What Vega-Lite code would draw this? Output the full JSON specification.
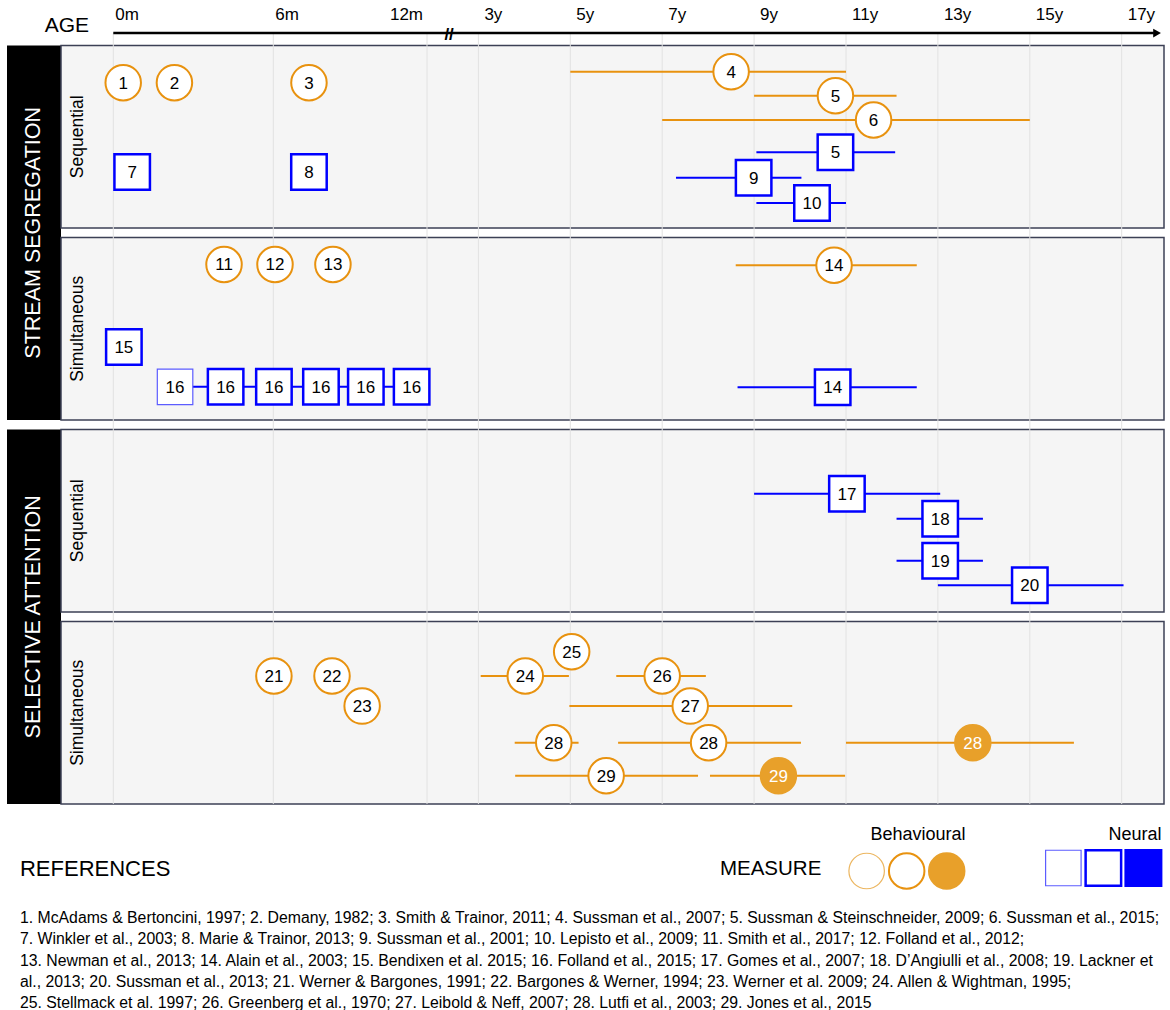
{
  "$schema": "https://vega.github.io/schema/vega-lite/v6.json",
  "background": "white",
  "padding": {"left": 7, "top": 0, "right": 0, "bottom": 0},
  "config": {"view": {"stroke": null}, "font": "Liberation Sans"},
  "datasets": {
    "studies": [
      {"id": "1", "type": "Behavioural", "variant": "B-normal", "age": 0.031, "row": 2.43},
      {"id": "2", "type": "Behavioural", "variant": "B-normal", "age": 0.191, "row": 2.43},
      {"id": "3", "type": "Behavioural", "variant": "B-normal", "age": 0.616, "row": 2.43},
      {"id": "4", "type": "Behavioural", "variant": "B-normal", "age": 8.5, "row": 1.86, "lo": 5.0, "hi": 11.0},
      {"id": "5", "type": "Behavioural", "variant": "B-normal", "age": 10.77, "row": 3.11, "lo": 9.0, "hi": 12.1},
      {"id": "6", "type": "Behavioural", "variant": "B-normal", "age": 11.6, "row": 4.375, "lo": 7.0, "hi": 15.0},
      {"id": "5", "type": "Neural", "variant": "N-normal", "age": 10.77, "row": 6.06, "lo": 9.05, "hi": 12.07},
      {"id": "7", "type": "Neural", "variant": "N-normal", "age": 0.059, "row": 7.08},
      {"id": "8", "type": "Neural", "variant": "N-normal", "age": 0.616, "row": 7.08},
      {"id": "9", "type": "Neural", "variant": "N-normal", "age": 8.99, "row": 7.38, "lo": 7.3, "hi": 10.03},
      {"id": "10", "type": "Neural", "variant": "N-normal", "age": 10.26, "row": 8.7, "lo": 9.05, "hi": 11.0},
      {"id": "11", "type": "Behavioural", "variant": "B-normal", "age": 0.346, "row": 11.9},
      {"id": "12", "type": "Behavioural", "variant": "B-normal", "age": 0.5055, "row": 11.9},
      {"id": "13", "type": "Behavioural", "variant": "B-normal", "age": 0.694, "row": 11.9},
      {"id": "14", "type": "Behavioural", "variant": "B-normal", "age": 10.74, "row": 11.94, "lo": 8.6, "hi": 12.54},
      {"id": "15", "type": "Neural", "variant": "N-normal", "age": 0.033, "row": 16.2},
      {"id": "16", "type": "Neural", "variant": "N-thin", "age": 0.193, "row": 18.27, "lo": 0.193, "hi": 0.95},
      {"id": "16", "type": "Neural", "variant": "N-normal", "age": 0.351, "row": 18.27},
      {"id": "16", "type": "Neural", "variant": "N-normal", "age": 0.502, "row": 18.27},
      {"id": "16", "type": "Neural", "variant": "N-normal", "age": 0.655, "row": 18.27},
      {"id": "16", "type": "Neural", "variant": "N-normal", "age": 0.801, "row": 18.27},
      {"id": "16", "type": "Neural", "variant": "N-normal", "age": 0.95, "row": 18.27},
      {"id": "14", "type": "Neural", "variant": "N-normal", "age": 10.71, "row": 18.3, "lo": 8.64, "hi": 12.54},
      {"id": "17", "type": "Neural", "variant": "N-normal", "age": 11.02, "row": 23.84, "lo": 9.0, "hi": 13.05},
      {"id": "18", "type": "Neural", "variant": "N-normal", "age": 13.05, "row": 25.14, "lo": 12.1, "hi": 13.98},
      {"id": "19", "type": "Neural", "variant": "N-normal", "age": 13.05, "row": 27.33, "lo": 12.1, "hi": 13.98},
      {"id": "20", "type": "Neural", "variant": "N-normal", "age": 15.0, "row": 28.61, "lo": 13.0, "hi": 17.04},
      {"id": "21", "type": "Behavioural", "variant": "B-normal", "age": 0.502, "row": 33.33},
      {"id": "22", "type": "Behavioural", "variant": "B-normal", "age": 0.691, "row": 33.33},
      {"id": "23", "type": "Behavioural", "variant": "B-normal", "age": 0.789, "row": 34.9},
      {"id": "24", "type": "Behavioural", "variant": "B-normal", "age": 4.02, "row": 33.33, "lo": 3.05, "hi": 4.97},
      {"id": "25", "type": "Behavioural", "variant": "B-normal", "age": 5.03, "row": 32.07},
      {"id": "26", "type": "Behavioural", "variant": "B-normal", "age": 7.0, "row": 33.33, "lo": 6.0, "hi": 7.95},
      {"id": "27", "type": "Behavioural", "variant": "B-normal", "age": 7.61, "row": 34.9, "lo": 4.98, "hi": 9.83},
      {"id": "28", "type": "Behavioural", "variant": "B-normal", "age": 4.64, "row": 36.81, "lo": 3.79, "hi": 5.18},
      {"id": "28", "type": "Behavioural", "variant": "B-normal", "age": 8.01, "row": 36.81, "lo": 6.04, "hi": 10.02},
      {"id": "28", "type": "Behavioural", "variant": "B-filled", "age": 13.76, "row": 36.81, "lo": 11.0, "hi": 15.96},
      {"id": "29", "type": "Behavioural", "variant": "B-normal", "age": 5.78, "row": 38.53, "lo": 3.8, "hi": 7.78},
      {"id": "29", "type": "Behavioural", "variant": "B-filled", "age": 9.53, "row": 38.53, "lo": 8.04, "hi": 10.98}
    ],
    "panels": [
      {"top": 0.5, "bottom": 10, "label": "Sequential", "mid": 5.25},
      {"top": 10.5, "bottom": 20, "label": "Simultaneous", "mid": 15.25},
      {"top": 20.5, "bottom": 30, "label": "Sequential", "mid": 25.25},
      {"top": 30.5, "bottom": 40, "label": "Simultaneous", "mid": 35.25}
    ],
    "ticks": [
      {"tick": 0, "label": "0m", "kind": "month"},
      {"tick": 0.5, "label": "6m", "kind": "month"},
      {"tick": 1, "label": "12m", "kind": "year1"},
      {"tick": 3, "label": "3y", "kind": "year"},
      {"tick": 5, "label": "5y", "kind": "year"},
      {"tick": 7, "label": "7y", "kind": "year"},
      {"tick": 9, "label": "9y", "kind": "year"},
      {"tick": 11, "label": "11y", "kind": "year"},
      {"tick": 13, "label": "13y", "kind": "year"},
      {"tick": 15, "label": "15y", "kind": "year"},
      {"tick": 17, "label": "17y", "kind": "year"}
    ],
    "legendMarks": [
      {"type": "Behavioural", "variant": "B-thin", "x": 74.3, "y": 3.0},
      {"type": "Behavioural", "variant": "B-normal", "x": 77.76, "y": 3.0},
      {"type": "Behavioural", "variant": "B-filled", "x": 81.22, "y": 3.0},
      {"type": "Neural", "variant": "N-thin", "x": 91.3, "y": 2.85},
      {"type": "Neural", "variant": "N-normal", "x": 94.76, "y": 2.85},
      {"type": "Neural", "variant": "N-filled", "x": 98.22, "y": 2.85}
    ],
    "typeLabels": [
      {"text": "Behavioural", "x": 78.74, "y": 1.2},
      {"text": "Neural", "x": 97.49, "y": 1.2}
    ],
    "refs": [
      {"text": "1. McAdams & Bertoncini, 1997; 2. Demany, 1982; 3. Smith & Trainor, 2011; 4. Sussman et al., 2007; 5. Sussman & Steinschneider, 2009; 6. Sussman et al., 2015;", "y": 5.35},
      {"text": "7. Winkler et al., 2003; 8. Marie & Trainor, 2013; 9. Sussman et al., 2001; 10. Lepisto et al., 2009; 11. Smith et al., 2017; 12. Folland et al., 2012;", "y": 6.4},
      {"text": "13. Newman et al., 2013; 14. Alain et al., 2003; 15. Bendixen et al. 2015; 16. Folland et al., 2015; 17. Gomes et al., 2007; 18. D’Angiulli et al., 2008; 19. Lackner et", "y": 7.475},
      {"text": "al., 2013; 20. Sussman et al., 2013; 21. Werner & Bargones, 1991; 22. Bargones & Werner, 1994; 23. Werner et al. 2009; 24. Allen & Wightman, 1995;", "y": 8.55},
      {"text": "25. Stellmack et al. 1997; 26. Greenberg et al., 1970; 27. Leibold & Neff, 2007; 28. Lutfi et al., 2003; 29. Jones et al., 2015", "y": 9.6}
    ]
  },
  "spacing": 6,
  "vconcat": [
    {
      "spacing": 0,
      "bounds": "flush",
      "hconcat": [
        {
          "width": 54,
          "height": 804,
          "data": {"values": [
            {"section": "STREAM SEGREGATION", "top": 0.5, "bottom": 20, "mid": 10.25},
            {"section": "SELECTIVE ATTENTION", "top": 20.5, "bottom": 40, "mid": 30.25}
          ]},
          "layer": [
            {
              "mark": {"type": "rect", "fill": "black"},
              "encoding": {
                "y": {"field": "top", "type": "quantitative", "scale": {"type": "linear", "domain": [-1.875, 40], "reverse": true, "nice": false, "zero": false}, "axis": null},
                "y2": {"field": "bottom"}
              }
            },
            {
              "mark": {"type": "text", "color": "white", "angle": 270, "fontSize": 21.5, "align": "center", "baseline": "middle"},
              "encoding": {
                "y": {"field": "mid", "type": "quantitative", "scale": {"type": "linear", "domain": [-1.875, 40], "reverse": true, "nice": false, "zero": false}, "axis": null},
                "text": {"field": "section"}
              }
            }
          ]
        },
        {
          "width": 1103,
          "height": 804,
          "layer": [
            {
              "data": {"name": "panels"},
              "mark": {"type": "rect", "fill": "#f5f5f5", "stroke": "#3c4055", "strokeWidth": 1.5},
              "encoding": {
                "y": {"field": "top", "type": "quantitative", "scale": {"type": "linear", "domain": [-1.875, 40], "reverse": true, "nice": false, "zero": false}, "axis": null},
                "y2": {"field": "bottom"}
              }
            },
            {
              "data": {"name": "ticks"},
              "mark": {"type": "rule", "color": "#e2e2e2", "strokeWidth": 1},
              "encoding": {
                "x": {"field": "tick", "type": "quantitative", "scale": {"type": "linear", "domain": [0, 0.5, 1, 3, 17], "range": [52.3, 212.3, 366, 417.4, 1060.7], "nice": false, "zero": false}, "axis": null},
                "y": {"datum": -0.15, "type": "quantitative", "axis": null},
                "y2": {"datum": 40}
              }
            },
            {
              "data": {"name": "ticks"},
              "transform": [{"filter": "datum.kind == 'month'"}],
              "mark": {"type": "text", "fontSize": 17, "align": "left", "baseline": "middle", "dx": 2, "color": "black"},
              "encoding": {
                "x": {"field": "tick", "type": "quantitative", "axis": null},
                "y": {"datum": -1.1, "type": "quantitative", "axis": null},
                "text": {"field": "label"}
              }
            },
            {
              "data": {"name": "ticks"},
              "transform": [{"filter": "datum.kind == 'year1'"}],
              "mark": {"type": "text", "fontSize": 17, "align": "right", "baseline": "middle", "dx": -4, "color": "black"},
              "encoding": {
                "x": {"field": "tick", "type": "quantitative", "axis": null},
                "y": {"datum": -1.1, "type": "quantitative", "axis": null},
                "text": {"field": "label"}
              }
            },
            {
              "data": {"name": "ticks"},
              "transform": [{"filter": "datum.kind == 'year'"}],
              "mark": {"type": "text", "fontSize": 17, "align": "left", "baseline": "middle", "dx": 6, "color": "black"},
              "encoding": {
                "x": {"field": "tick", "type": "quantitative", "axis": null},
                "y": {"datum": -1.1, "type": "quantitative", "axis": null},
                "text": {"field": "label"}
              }
            },
            {
              "data": {"values": [{"text": "AGE"}]},
              "mark": {"type": "text", "fontSize": 21, "align": "center", "baseline": "middle", "color": "black"},
              "encoding": {
                "x": {"datum": -0.145, "type": "quantitative", "axis": null},
                "y": {"datum": -0.52, "type": "quantitative", "axis": null},
                "text": {"field": "text"}
              }
            },
            {
              "data": {"values": [{"from": 0, "to": 17.7}]},
              "mark": {"type": "rule", "color": "black", "strokeWidth": 2.5},
              "encoding": {
                "x": {"field": "from", "type": "quantitative", "axis": null},
                "x2": {"field": "to"},
                "y": {"datum": -0.15, "type": "quantitative", "axis": null}
              }
            },
            {
              "data": {"values": [{"at": 17.77}]},
              "mark": {"type": "point", "shape": "triangle-right", "filled": true, "color": "black", "size": 80, "opacity": 1},
              "encoding": {
                "x": {"field": "at", "type": "quantitative", "axis": null},
                "y": {"datum": -0.15, "type": "quantitative", "axis": null}
              }
            },
            {
              "data": {"values": [{"at": 1.86, "text": "//"}]},
              "mark": {"type": "text", "fontSize": 17, "fontWeight": "bold", "color": "black", "align": "center", "baseline": "middle", "dy": 2},
              "encoding": {
                "x": {"field": "at", "type": "quantitative", "axis": null},
                "y": {"datum": -0.15, "type": "quantitative", "axis": null},
                "text": {"field": "text"}
              }
            },
            {
              "data": {"name": "studies"},
              "transform": [{"filter": "isValid(datum.lo)"}],
              "mark": {"type": "rule", "strokeWidth": 2},
              "encoding": {
                "x": {"field": "lo", "type": "quantitative", "axis": null},
                "x2": {"field": "hi"},
                "y": {"field": "row", "type": "quantitative", "axis": null},
                "color": {"field": "type", "type": "nominal", "scale": {"domain": ["Behavioural", "Neural"], "range": ["#e8920f", "#0000ff"]}, "legend": null}
              }
            },
            {
              "data": {"name": "studies"},
              "mark": {"type": "point", "size": 1260, "opacity": 1, "fillOpacity": 1, "strokeOpacity": 1},
              "encoding": {
                "x": {"field": "age", "type": "quantitative", "axis": null},
                "y": {"field": "row", "type": "quantitative", "axis": null},
                "shape": {"field": "type", "type": "nominal", "scale": {"domain": ["Behavioural", "Neural"], "range": ["circle", "square"]}, "legend": null},
                "fill": {"field": "variant", "type": "nominal", "scale": {"domain": ["B-thin", "B-normal", "B-filled", "N-thin", "N-normal", "N-filled"], "range": ["#ffffff", "#ffffff", "#e8a02a", "#ffffff", "#ffffff", "#0000ff"]}, "legend": null},
                "stroke": {"field": "variant", "type": "nominal", "scale": {"domain": ["B-thin", "B-normal", "B-filled", "N-thin", "N-normal", "N-filled"], "range": ["#ecb660", "#e8920f", "#e8a02a", "#5c5cff", "#0000ff", "#0000ff"]}, "legend": null},
                "strokeWidth": {"field": "variant", "type": "nominal", "scale": {"type": "ordinal", "domain": ["B-thin", "B-normal", "B-filled", "N-thin", "N-normal", "N-filled"], "range": [1.2, 2, 2, 1.2, 2.5, 2.5]}, "legend": null}
              }
            },
            {
              "data": {"name": "studies"},
              "mark": {"type": "text", "fontSize": 17, "align": "center", "baseline": "middle", "dy": 1},
              "encoding": {
                "x": {"field": "age", "type": "quantitative", "axis": null},
                "y": {"field": "row", "type": "quantitative", "axis": null},
                "text": {"field": "id"},
                "color": {"condition": {"test": "datum.variant == 'B-filled' || datum.variant == 'N-filled'", "value": "white"}, "value": "black"}
              }
            },
            {
              "data": {"name": "panels"},
              "mark": {"type": "text", "fontSize": 17.5, "angle": 270, "align": "center", "baseline": "middle", "color": "black"},
              "encoding": {
                "x": {"datum": -0.109, "type": "quantitative", "axis": null},
                "y": {"field": "mid", "type": "quantitative", "axis": null},
                "text": {"field": "label"}
              }
            }
          ]
        }
      ]
    },
    {
      "width": 1157,
      "height": 200,
      "layer": [
        {
          "data": {"values": [{"text": "REFERENCES", "x": 1.12, "y": 2.9}]},
          "mark": {"type": "text", "fontSize": 22, "align": "left", "baseline": "middle", "color": "black"},
          "encoding": {
            "x": {"field": "x", "type": "quantitative", "scale": {"domain": [0, 100], "nice": false, "zero": false}, "axis": null},
            "y": {"field": "y", "type": "quantitative", "scale": {"domain": [0, 10], "reverse": true, "nice": false, "zero": false}, "axis": null},
            "text": {"field": "text"}
          }
        },
        {
          "data": {"values": [{"text": "MEASURE", "x": 61.62, "y": 2.9}]},
          "mark": {"type": "text", "fontSize": 20.5, "align": "left", "baseline": "middle", "color": "black"},
          "encoding": {
            "x": {"field": "x", "type": "quantitative", "axis": null},
            "y": {"field": "y", "type": "quantitative", "axis": null},
            "text": {"field": "text"}
          }
        },
        {
          "data": {"name": "typeLabels"},
          "mark": {"type": "text", "fontSize": 18, "align": "center", "baseline": "middle", "color": "black"},
          "encoding": {
            "x": {"field": "x", "type": "quantitative", "axis": null},
            "y": {"field": "y", "type": "quantitative", "axis": null},
            "text": {"field": "text"}
          }
        },
        {
          "data": {"name": "legendMarks"},
          "mark": {"type": "point", "size": 1260, "opacity": 1, "fillOpacity": 1, "strokeOpacity": 1},
          "encoding": {
            "x": {"field": "x", "type": "quantitative", "axis": null},
            "y": {"field": "y", "type": "quantitative", "axis": null},
            "shape": {"field": "type", "type": "nominal", "scale": {"domain": ["Behavioural", "Neural"], "range": ["circle", "square"]}, "legend": null},
            "fill": {"field": "variant", "type": "nominal", "scale": {"domain": ["B-thin", "B-normal", "B-filled", "N-thin", "N-normal", "N-filled"], "range": ["#ffffff", "#ffffff", "#e8a02a", "#ffffff", "#ffffff", "#0000ff"]}, "legend": null},
            "stroke": {"field": "variant", "type": "nominal", "scale": {"domain": ["B-thin", "B-normal", "B-filled", "N-thin", "N-normal", "N-filled"], "range": ["#ecb660", "#e8920f", "#e8a02a", "#5c5cff", "#0000ff", "#0000ff"]}, "legend": null},
            "strokeWidth": {"field": "variant", "type": "nominal", "scale": {"type": "ordinal", "domain": ["B-thin", "B-normal", "B-filled", "N-thin", "N-normal", "N-filled"], "range": [1.2, 2, 2, 1.2, 2.5, 2.5]}, "legend": null}
          }
        },
        {
          "data": {"name": "refs"},
          "mark": {"type": "text", "fontSize": 15.8, "align": "left", "baseline": "middle", "color": "black"},
          "encoding": {
            "x": {"datum": 1.12, "type": "quantitative", "axis": null},
            "y": {"field": "y", "type": "quantitative", "axis": null},
            "text": {"field": "text"}
          }
        }
      ]
    }
  ]
}
